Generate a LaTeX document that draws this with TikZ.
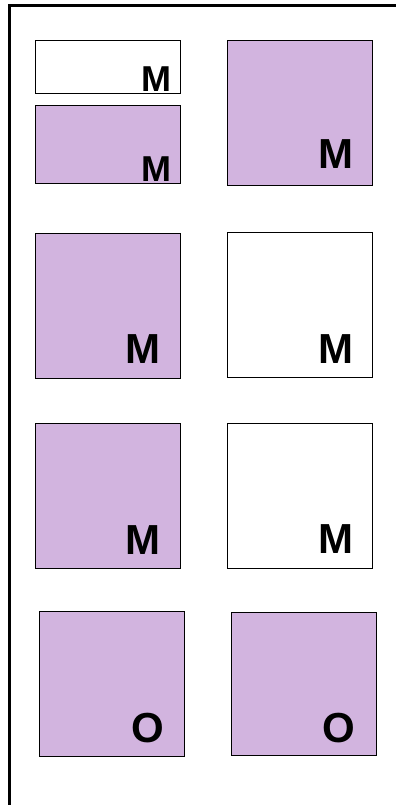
\documentclass[tikz,border=0pt]{standalone}
\usepackage{fontspec}
\setmainfont{Liberation Sans}
\definecolor{purp}{RGB}{210,180,223}
\begin{document}
\begin{tikzpicture}[x=1pt,y=-1pt,
  box/.style={draw=black, line width=1.3pt, anchor=north west, inner sep=0pt, minimum width=145pt, minimum height=145pt},
  pbox/.style={box, fill=purp},
  wbox/.style={box, fill=white},
  lbl/.style={inner sep=0pt, anchor=base east, font=\bfseries\fontsize{42}{42}\selectfont},
  slbl/.style={inner sep=0pt, anchor=base east, font=\bfseries\fontsize{36}{36}\selectfont}]
\useasboundingbox (0,0) rectangle (396,805);
\fill[white] (0,0) rectangle (396,805);
% frame
\coordinate (fb) at (9.5,805);
\coordinate (ftl) at (9.5,5.5);
\coordinate (fr) at (396,5.5);
\draw[line width=3pt] (fb) -- (ftl) -- (fr);
% row 1
\node[wbox, minimum height=53pt] (a) at (35,40) {};
\node[pbox, minimum height=78pt] (b) at (35,105) {};
\node[pbox] (c) at (227,40) {};
\node[slbl] at ([xshift=-10pt,yshift=2.5pt]a.south east) {M};
\node[slbl] at ([xshift=-10pt,yshift=2.5pt]b.south east) {M};
\node[lbl] at ([xshift=-20pt,yshift=18pt]c.south east) {M};
% row 2
\node[pbox] (d) at (35,233) {};
\node[wbox] (e) at (227,232) {};
\node[lbl] at ([xshift=-21pt,yshift=16pt]d.south east) {M};
\node[lbl] at ([xshift=-20pt,yshift=15pt]e.south east) {M};
% row 3
\node[pbox] (f) at (35,423) {};
\node[wbox] (g) at (227,423) {};
\node[lbl] at ([xshift=-21pt,yshift=15pt]f.south east) {M};
\node[lbl] at ([xshift=-20pt,yshift=16pt]g.south east) {M};
% row 4
\node[pbox] (h) at (39,611) {};
\node[pbox, minimum height=143pt] (i) at (231,612) {};
\node[lbl] at ([xshift=-21pt,yshift=15pt]h.south east) {O};
\node[lbl] at ([xshift=-22pt,yshift=14pt]i.south east) {O};
\end{tikzpicture}
\end{document}
